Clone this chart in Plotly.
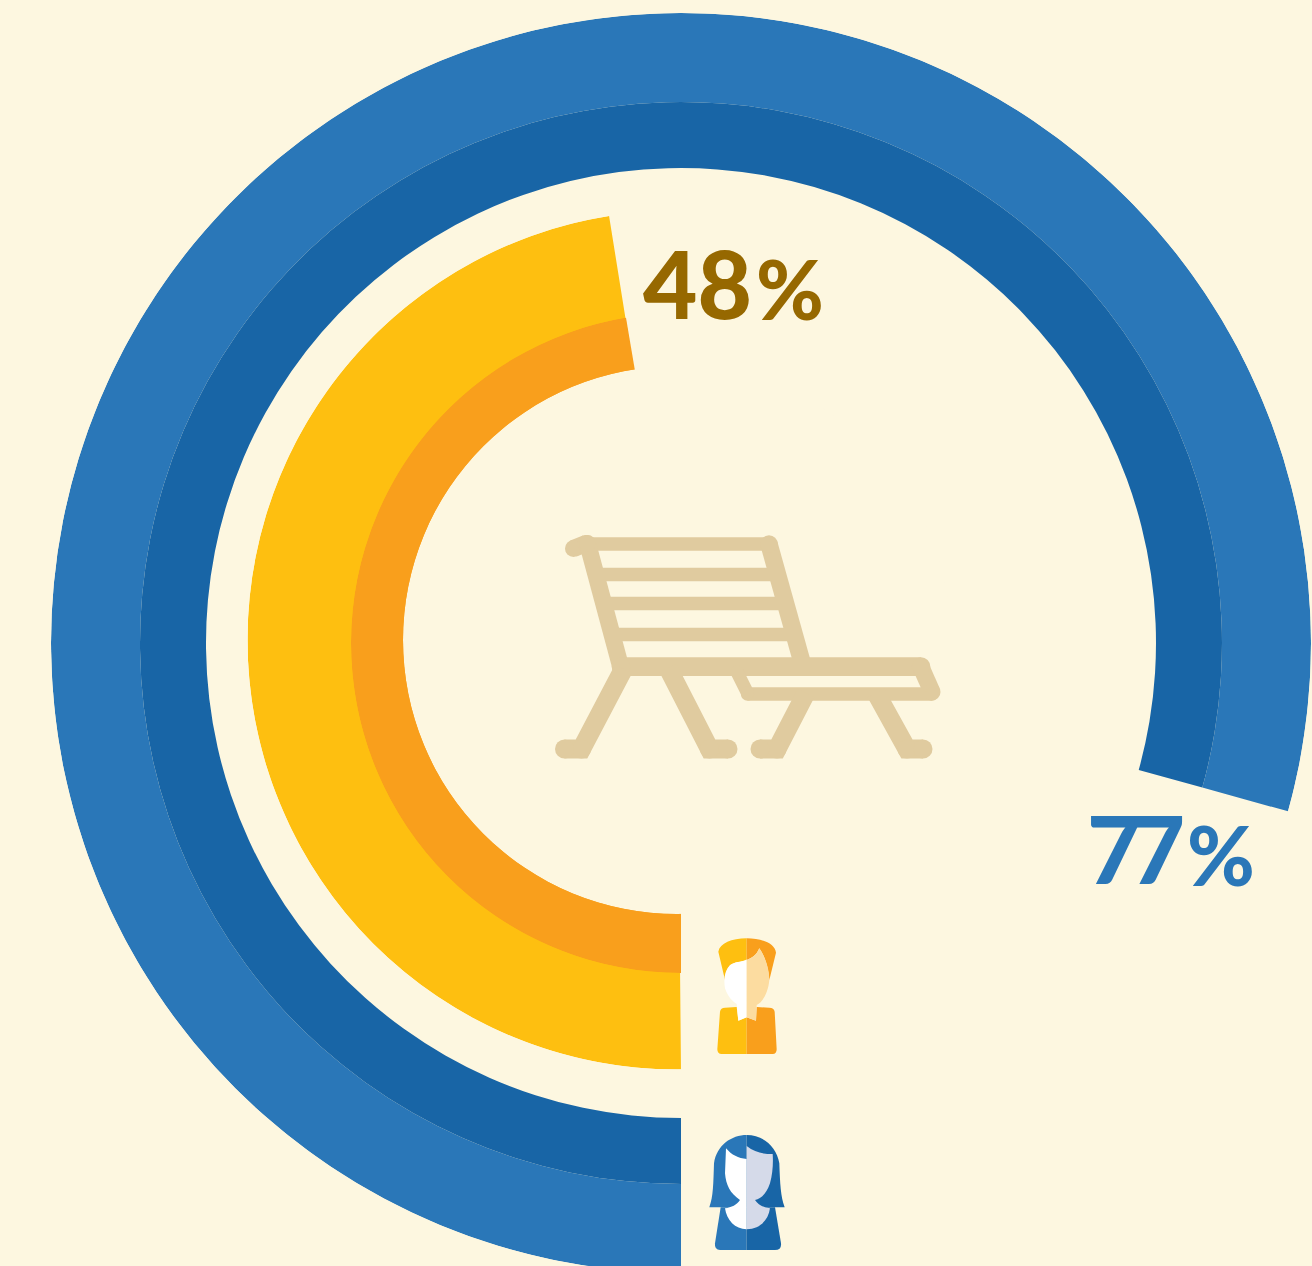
import re
import plotly.graph_objects as go

# ---- data -------------------------------------------------------------
labels = ["77", "48"]
sign = "%"
# Arc ends as drawn, degrees clockwise from the bottom
blue_start, blue_end = 0.0, 285.5
yellow_start, yellow_end = -0.53, 170.9
orange_start, orange_end = 0.0, 170.4
# radii
blue_radii = [475, 541, 630]
yellow_outer_r = 429.5
orange_outer_r = 330
hole_r = 274

BG = "#FDF7E0"
BLUE, BLUE_D = "#2A77B8", "#1865A6"
YEL, ORG = "#FEBF10", "#F99F1C"
BENCH = "#E0CB9F"
W, H = 1312, 1286

fig = go.Figure()


def wedge(subplot, r0, r1, a0, a1, color, name):
    fig.add_trace(go.Barpolar(r=[r1 - r0], base=[r0], theta=[(a0 + a1) / 2], width=[a1 - a0], subplot=subplot,
                              name=name, marker=dict(color=color, line=dict(width=0)),
                              hoverinfo="skip", showlegend=False))


wedge("polar", blue_radii[1], blue_radii[2], blue_start, blue_end, BLUE, "77% outer")
wedge("polar", blue_radii[0], blue_radii[1], blue_start, blue_end, BLUE_D, "77% inner")
wedge("polar2", 0, yellow_outer_r, yellow_start, yellow_end, YEL, "48% outer")
wedge("polar3", 0, orange_outer_r, orange_start, orange_end, ORG, "48% inner")
wedge("polar4", 0, hole_r, 0, 360, BG, "hole")


def polar_layout(cx, cy, R):
    return dict(
        domain=dict(x=[(cx - R) / W, (cx + R) / W], y=[(H - cy - R) / H, (H - cy + R) / H]),
        bgcolor="rgba(0,0,0,0)", sector=[0, 360],
        radialaxis=dict(range=[0, R], visible=False),
        angularaxis=dict(rotation=270, direction="clockwise", visible=False, thetaunit="degrees"),
    )


# ---- icons (decoration) -------------------------------------------------
shapes = []


def tr(path, ox, oy, s=1 / 3):
    i = 0

    def rep(m):
        nonlocal i
        v = float(m.group(0)) * s + (ox if i % 2 == 0 else oy)
        i += 1
        return f"{v:.2f}"
    return re.sub(r"-?\d+\.?\d*", rep, path)


def blob(path, color, ox, oy):
    shapes.append(dict(type="path", xref="x", yref="y", path=tr(path, ox, oy), fillcolor=color,
                       line=dict(width=0), layer="above"))


def dot(x, y, w):
    shapes.append(dict(type="circle", xref="x", yref="y", x0=x - w / 2, x1=x + w / 2,
                       y0=y - w / 2, y1=y + w / 2, fillcolor=BENCH, line=dict(width=0), layer="above"))


def stroke(pts, w, skip_first=False):
    d = "M" + " L".join(f"{x} {y}" for x, y in pts)
    shapes.append(dict(type="path", xref="x", yref="y", path=d, line=dict(color=BENCH, width=w), layer="above"))
    for x, y in pts[1 if skip_first else 0:]:
        dot(x, y, w)


# bench
stroke([(573.5, 548.5), (586, 543.5)], 17)
shapes.append(dict(type="line", xref="x", yref="y", x0=586, x1=769, y0=544, y1=544,
                   line=dict(color=BENCH, width=13.5), layer="above"))
shapes.append(dict(type="line", xref="x", yref="y", x0=587.7, x1=621, y0=544, y1=668,
                   line=dict(color=BENCH, width=17), layer="above"))
shapes.append(dict(type="line", xref="x", yref="y", x0=769, x1=802.5, y0=544, y1=664,
                   line=dict(color=BENCH, width=17.5), layer="above"))
dot(769, 544, 17.5)
dot(587.5, 543.5, 17)
for y, x0, x1 in [(574.5, 596, 777), (603.5, 604, 785), (634.5, 612, 793)]:
    shapes.append(dict(type="line", xref="x", yref="y", x0=x0, x1=x1, y0=y, y1=y,
                       line=dict(color=BENCH, width=13.5), layer="above"))
stroke([(621, 666.7), (921, 666.7)], 18.7)
stroke([(921, 667), (932, 692)], 17)
stroke([(932, 694), (747.5, 694)], 13.3)
stroke([(737, 672), (747.5, 693)], 13)
stroke([(623.5, 669), (581.5, 749), (564.5, 749)], 19, skip_first=True)
stroke([(668, 668), (709.5, 749), (728, 749)], 19, skip_first=True)
stroke([(806, 693), (777, 749), (760, 749)], 19, skip_first=True)
stroke([(876, 693), (907, 749), (923, 749)], 19, skip_first=True)

# man
ox, oy = 700, 930
blob("M140 25 C95 25 60 40 55 65 L75 150 C75 120 90 100 110 97 C125 95 135 92 140 88 Z", YEL, ox, oy)
blob("M140 25 C185 25 225 40 228 68 L208 150 C205 110 195 80 178 55 C170 75 155 85 140 90 Z", ORG, ox, oy)
blob("M60 245 Q62 233 75 233 L110 231 L115 272 L140 262 L140 372 L65 372 Q52 372 52 358 Z", YEL, ox, oy)
blob("M140 262 L168 272 L170 231 L208 233 Q222 233 224 245 L230 358 Q230 372 218 372 L140 372 Z", ORG, ox, oy)
blob("M140 90 C120 97 105 95 90 105 C75 120 70 145 75 175 C85 205 100 215 110 222 L115 272 L140 262 Z", "#FFFFFF", ox, oy)
blob("M140 90 C155 85 170 75 178 55 C195 80 208 115 208 150 C205 185 190 215 170 225 L168 272 L140 262 Z", "#FCDCA0", ox, oy)

# woman
ox, oy = 700, 1130
blob("M140 15 C95 15 50 45 42 100 C40 160 40 200 28 232 L140 232 Z", BLUE, ox, oy)
blob("M140 15 C190 15 230 50 238 100 C240 160 242 200 254 232 L140 232 Z", BLUE_D, ox, oy)
blob("M62 232 L45 340 Q43 360 60 360 L140 360 L140 232 Z", BLUE, ox, oy)
blob("M140 232 L225 232 L243 340 Q245 360 225 360 L140 360 Z", BLUE_D, ox, oy)
blob("M78 55 C95 75 115 85 140 87 L140 298 C105 298 80 270 75 235 C95 232 110 225 120 210 C90 190 78 165 75 130 Z", "#FFFFFF", ox, oy)
blob("M140 48 C165 68 190 72 218 72 C220 100 218 130 210 160 C200 190 185 205 165 210 C175 225 190 232 210 235 C205 270 180 298 140 298 Z", "#D5DAE9", ox, oy)


def text(t, x, y, size, color):
    fig.add_annotation(xref="x", yref="y", x=x, y=y, xanchor="left", yanchor="middle", showarrow=False, text=t,
                       font=dict(family="Lato", size=size, color=color, weight=900))


text(labels[1], 641, 282, 94, "#966800")
text(sign, 754, 288, 82, "#966800")
text(labels[0], 1074, 847, 94, BLUE)
text(sign, 1185, 854, 82, BLUE)

fig.update_layout(
    width=W, height=H, autosize=False, margin=dict(l=0, r=0, t=0, b=0),
    paper_bgcolor=BG, plot_bgcolor=BG, shapes=shapes, showlegend=False,
    xaxis=dict(range=[0, W], visible=False, domain=[0, 1], fixedrange=True),
    yaxis=dict(range=[H, 0], visible=False, domain=[0, 1], fixedrange=True),
    polar=polar_layout(681, 643, blue_radii[2]),
    polar2=polar_layout(677, 640, yellow_outer_r),
    polar3=polar_layout(681, 643, orange_outer_r),
    polar4=polar_layout(677, 640, hole_r),
)

fig.write_html("out.html", config=dict(displayModeBar=False),
               post_script=(
                   'document.body.style.margin="0";document.documentElement.style.overflow="hidden";'
                   'document.body.style.overflow="hidden";'
                   'document.querySelectorAll(".annotation-text").forEach(function(t){'
                   'if(t.textContent==="77"){t.style.letterSpacing="-11px";}});'))
